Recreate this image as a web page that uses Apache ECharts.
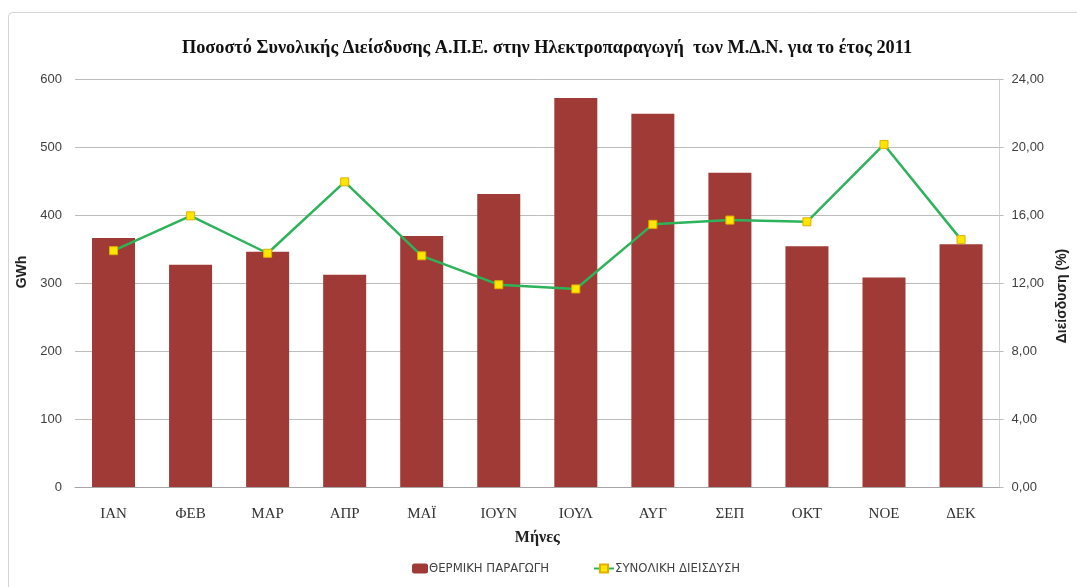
<!DOCTYPE html>
<html>
<head>
<meta charset="utf-8">
<script src="https://cdn.jsdelivr.net/npm/echarts@6/dist/echarts.min.js"></script>
<style>
  html, body { margin: 0; padding: 0; background: #fff; }
  #chart { width: 1077px; height: 587px; }
</style>
</head>
<body>
<div id="chart"></div>
<script>
// Months of 2011
const months = ['ΙΑΝ', 'ΦΕΒ', 'ΜΑΡ', 'ΑΠΡ', 'ΜΑΪ', 'ΙΟΥΝ', 'ΙΟΥΛ', 'ΑΥΓ', 'ΣΕΠ', 'ΟΚΤ', 'ΝΟΕ', 'ΔΕΚ'];
// Thermal generation (GWh)
const thermalGWh = [366, 327, 346, 312, 369, 431, 572, 549, 462, 354, 308, 357];
// Total RES penetration (%)
const penetrationPct = [13.9, 15.95, 13.75, 17.95, 13.6, 11.9, 11.65, 15.45, 15.7, 15.6, 20.15, 14.55];

const seriesNames = ['ΘΕΡΜΙΚΗ ΠΑΡΑΓΩΓΗ', 'ΣΥΝΟΛΙΚΗ ΔΙΕΙΣΔΥΣΗ'];

const numFont = '"Liberation Sans", "DejaVu Sans", sans-serif';
const serifFont = '"Liberation Serif", "DejaVu Serif", serif';
const narrowFont = '"Liberation Sans Narrow", "DejaVu Sans Condensed", "Liberation Sans", sans-serif';

const chart = echarts.init(document.getElementById('chart'), null, { renderer: 'canvas' });

chart.setOption({
  backgroundColor: '#ffffff',
  animation: false,
  graphic: [{
    type: 'rect',
    shape: { x: 8.5, y: 12.5, width: 1080, height: 600, r: 4 },
    style: { fill: 'none', stroke: '#d4d4d4', lineWidth: 1 },
    silent: true
  }],
  title: {
    text: 'Ποσοστό Συνολικής Διείσδυσης Α.Π.Ε. στην Ηλεκτροπαραγωγή  των Μ.Δ.Ν. για το έτος 2011',
    left: 542,
    textAlign: 'center',
    top: 34,
    textStyle: {
      fontFamily: serifFont,
      fontWeight: 'bold',
      fontSize: 18.3,
      color: '#111111'
    }
  },
  legend: [{
    data: [seriesNames[0]],
    left: 407,
    top: 557,
    itemWidth: 16,
    itemHeight: 10,
    itemGap: 0,
    textStyle: { fontFamily: narrowFont, fontSize: 13, color: '#404040', padding: [0, 0, 0, -4] }
  }, {
    data: [seriesNames[1]],
    left: 588,
    top: 557,
    itemWidth: 20,
    itemHeight: 10,
    textStyle: { fontFamily: narrowFont, fontSize: 13, color: '#404040', padding: [0, 0, 0, -4] }
  }],
  grid: {
    left: 75,
    right: 71,
    top: 79,
    bottom: 100,
    containLabel: false
  },
  xAxis: {
    type: 'category',
    data: months,
    name: 'Μήνες',
    nameLocation: 'middle',
    nameGap: 43,
    nameTextStyle: { fontFamily: serifFont, fontWeight: 'bold', fontSize: 16, color: '#222222' },
    axisLine: { show: true, lineStyle: { color: '#a6a6a6', width: 1 } },
    axisTick: { show: false },
    axisLabel: { fontFamily: serifFont, fontSize: 15, color: '#333333', margin: 20 }
  },
  yAxis: [{
    type: 'value',
    min: 0,
    max: 600,
    interval: 100,
    name: 'GWh',
    nameLocation: 'middle',
    nameGap: 40,
    nameTextStyle: {
      fontFamily: numFont, fontWeight: 'bold', fontSize: 14, color: '#222222',
      padding: [0, 0, 0, 22]
    },
    axisLine: { show: false },
    axisTick: { show: false },
    axisLabel: { fontFamily: numFont, fontSize: 13, color: '#404040', margin: 13 },
    splitLine: { show: true, lineStyle: { color: '#bdbdbd', width: 1 } }
  }, {
    type: 'value',
    min: 0,
    max: 24,
    interval: 4,
    name: 'Διείσδυση (%)',
    nameLocation: 'middle',
    nameGap: 54,
    nameRotate: 90,
    nameTextStyle: {
      fontFamily: numFont, fontWeight: 'bold', fontSize: 14, color: '#222222',
      padding: [0, 26, 0, 0]
    },
    axisLine: { show: true, lineStyle: { color: '#d0d0d0', width: 1 } },
    axisTick: { show: true, length: 4, lineStyle: { color: '#bdbdbd' } },
    axisLabel: {
      fontFamily: numFont, fontSize: 13, color: '#404040', margin: 12,
      formatter: v => v.toFixed(2).replace('.', ',')
    },
    splitLine: { show: false }
  }],
  series: [{
    name: seriesNames[0],
    type: 'bar',
    yAxisIndex: 0,
    data: thermalGWh,
    barWidth: 43,
    itemStyle: { color: '#a03a36' }
  }, {
    name: seriesNames[1],
    type: 'line',
    yAxisIndex: 1,
    data: penetrationPct,
    symbol: 'rect',
    symbolSize: 8,
    lineStyle: { color: '#2db35a', width: 2.5 },
    itemStyle: { color: '#ffe600', borderColor: '#e0b000', borderWidth: 1 }
  }]
});
</script>
</body>
</html>
